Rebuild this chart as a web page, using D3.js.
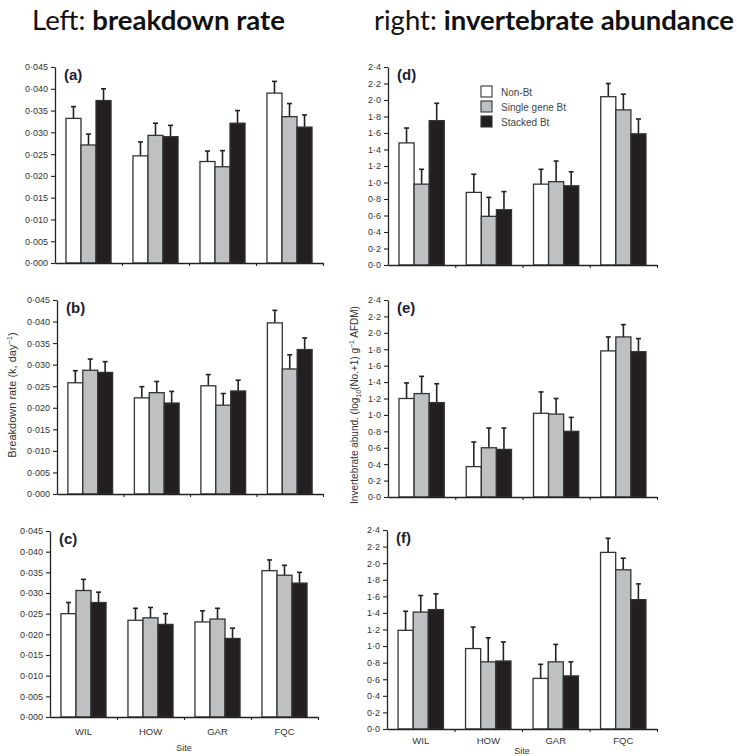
<!DOCTYPE html>
<html>
<head>
<meta charset="utf-8">
<script src="https://cdn.jsdelivr.net/npm/d3@7"></script>
<style>
  body { margin: 0; background: #fff; }
  svg { display: block; }
  .tick text { font-family: "Liberation Sans", Arial, sans-serif; fill: #333; }
</style>
</head>
<body>
<svg id="chart" width="737" height="756"></svg>
<script>
// sites and treatments
var sites = ["WIL", "HOW", "GAR", "FQC"]
var treatments = ["Non-Bt", "Single gene Bt", "Stacked Bt"]
var treatColors = ["#ffffff", "#bfc0c2", "#231f20"]

var rateTicks = [0, 0.005, 0.010, 0.015, 0.020, 0.025, 0.030, 0.035, 0.040, 0.045]
var abundTicks = [0, 0.2, 0.4, 0.6, 0.8, 1.0, 1.2, 1.4, 1.6, 1.8, 2.0, 2.2, 2.4]

// breakdown rate, rows = site, cols = treatment
var meanA = [[0.0332, 0.0271, 0.0373], [0.0246, 0.0293, 0.0290], [0.0233, 0.0221, 0.0321], [0.0390, 0.0336, 0.0312]]
var seA   = [[0.0027, 0.0025, 0.0027], [0.0032, 0.0028, 0.0026], [0.0024, 0.0037, 0.0029], [0.0027, 0.0030, 0.0028]]
var meanB = [[0.0258, 0.0287, 0.0282], [0.0223, 0.0235, 0.0211], [0.0251, 0.0206, 0.0239], [0.0397, 0.0290, 0.0335]]
var seB   = [[0.0028, 0.0026, 0.0025], [0.0026, 0.0026, 0.0027], [0.0026, 0.0027, 0.0025], [0.0029, 0.0033, 0.0027]]
var meanC = [[0.0250, 0.0306, 0.0277], [0.0234, 0.0240, 0.0224], [0.0230, 0.0237, 0.0190], [0.0354, 0.0343, 0.0324]]
var seC   = [[0.0027, 0.0027, 0.0025], [0.0029, 0.0025, 0.0026], [0.0027, 0.0026, 0.0025], [0.0026, 0.0024, 0.0026]]

// invertebrate abundance
var meanD = [[1.48, 0.98, 1.75], [0.88, 0.59, 0.67], [0.98, 1.01, 0.96], [2.04, 1.88, 1.59]]
var seD   = [[0.18, 0.18, 0.21], [0.22, 0.23, 0.22], [0.18, 0.25, 0.17], [0.16, 0.19, 0.18]]
var meanE = [[1.20, 1.26, 1.15], [0.37, 0.60, 0.58], [1.02, 1.01, 0.80], [1.78, 1.95, 1.77]]
var seE   = [[0.19, 0.21, 0.23], [0.30, 0.24, 0.26], [0.26, 0.19, 0.17], [0.17, 0.15, 0.16]]
var meanF = [[1.19, 1.41, 1.44], [0.97, 0.81, 0.82], [0.61, 0.81, 0.64], [2.13, 1.92, 1.56]]
var seF   = [[0.23, 0.20, 0.19], [0.26, 0.29, 0.23], [0.17, 0.21, 0.17], [0.17, 0.14, 0.19]]

var panels = [
  {tag: "(a)", mean: meanA, se: seA, ticks: rateTicks, dec: 3, x0: 55, x1: 323, top: 67, zero: 263},
  {tag: "(b)", mean: meanB, se: seB, ticks: rateTicks, dec: 3, x0: 57, x1: 323, top: 300, zero: 494},
  {tag: "(c)", mean: meanC, se: seC, ticks: rateTicks, dec: 3, x0: 50, x1: 318, top: 531, zero: 717, siteY: 18, titleY: 34},
  {tag: "(d)", mean: meanD, se: seD, ticks: abundTicks, dec: 1, x0: 388, x1: 657, top: 67, zero: 265, legend: true},
  {tag: "(e)", mean: meanE, se: seE, ticks: abundTicks, dec: 1, x0: 388, x1: 657, top: 300, zero: 497},
  {tag: "(f)", mean: meanF, se: seF, ticks: abundTicks, dec: 1, x0: 387, x1: 657, top: 530, zero: 729, siteY: 15, titleY: 25}
]

var svg = d3.select("#chart")
var INK = "#222"

// header
function header(x, plain, bold, target){
  var t = svg.append("text").attr("x", x).attr("y", 30)
    .style("font-family", "Lato, 'Open Sans', sans-serif").style("font-size", "24px").attr("fill", "#111")
  t.append("tspan").text(plain)
  t.append("tspan").style("font-weight", "bold").text(bold)
  var w = t.node().getComputedTextLength()
  t.style("font-size", (24 * target / w).toFixed(2) + "px")
}
header(32, "Left: ", "breakdown rate", 253)
header(374, "right: ", "invertebrate abundance", 360)

function drawPanel(p){
  var g = svg.append("g")
  var y = d3.scaleLinear().domain([0, p.ticks[p.ticks.length - 1]]).range([p.zero, p.top])
  var x = d3.scaleBand().domain(sites).range([p.x0, p.x1])
  var xs = d3.scaleBand().domain(treatments).range([0, x.bandwidth()]).paddingOuter(0.73).paddingInner(0)

  var rows = []
  sites.forEach(function(s, i){
    treatments.forEach(function(t, j){
      rows.push({site: s, treat: t, j: j, v: p.mean[i][j], se: p.se[i][j]})
    })
  })

  // error bars first so bars sit on top of the stems
  var eb = g.selectAll(".err").data(rows).enter().append("g").attr("class", "err")
  eb.append("line")
    .attr("x1", d => x(d.site) + xs(d.treat) + xs.bandwidth() / 2)
    .attr("x2", d => x(d.site) + xs(d.treat) + xs.bandwidth() / 2)
    .attr("y1", d => y(d.v)).attr("y2", d => y(d.v + d.se))
    .attr("stroke", INK).attr("stroke-width", 1.6)
  eb.append("line")
    .attr("x1", d => x(d.site) + xs(d.treat) + xs.bandwidth() / 2 - 2.5)
    .attr("x2", d => x(d.site) + xs(d.treat) + xs.bandwidth() / 2 + 2.5)
    .attr("y1", d => y(d.v + d.se)).attr("y2", d => y(d.v + d.se))
    .attr("stroke", INK).attr("stroke-width", 1.6)

  g.selectAll(".bar").data(rows).enter().append("rect")
    .attr("class", "bar")
    .attr("x", d => x(d.site) + xs(d.treat))
    .attr("width", xs.bandwidth())
    .attr("y", d => y(d.v))
    .attr("height", d => y(0) - y(d.v))
    .attr("fill", d => treatColors[d.j])
    .attr("stroke", "#333").attr("stroke-width", 1.3)

  // y axis
  var fmt = d => d.toFixed(p.dec).replace(".", "\u00b7")
  var ya = g.append("g").attr("transform", "translate(" + p.x0 + ",0)")
    .call(d3.axisLeft(y).tickValues(p.ticks).tickSize(4).tickSizeOuter(0).tickFormat(fmt))
  ya.selectAll("text").style("font-size", "9px")
  ya.select(".domain").attr("stroke", INK).attr("stroke-width", 1.3)
  ya.selectAll(".tick line").attr("stroke", INK).attr("stroke-width", 1.1)

  // x axis with ticks on group boundaries
  var xi = d3.scaleLinear().domain([0, sites.length]).range([p.x0, p.x1])
  var xa = g.append("g").attr("transform", "translate(0," + p.zero + ")")
    .call(d3.axisBottom(xi).tickValues([1, 2, 3, 4]).tickSize(3).tickSizeOuter(0).tickFormat(""))
  xa.select(".domain").attr("stroke", INK).attr("stroke-width", 1.3)
  xa.selectAll(".tick line").attr("stroke", INK).attr("stroke-width", 1.1)

  if (p.siteY){
    g.selectAll(".site").data(sites).enter().append("text")
      .attr("x", d => x(d) + x.bandwidth() / 2)
      .attr("y", p.zero + p.siteY)
      .attr("text-anchor", "middle")
      .style("font-family", "'Liberation Sans', Arial, sans-serif").style("font-size", "9.5px")
      .attr("fill", "#333").text(d => d)
    g.append("text").attr("x", (p.x0 + p.x1) / 2).attr("y", p.zero + p.titleY)
      .attr("text-anchor", "middle")
      .style("font-family", "'Liberation Sans', Arial, sans-serif").style("font-size", "9px")
      .attr("fill", "#333").text("Site")
  }

  g.append("text").attr("x", p.x0 + 9).attr("y", p.top + 13)
    .style("font-family", "'Liberation Sans', Arial, sans-serif").style("font-size", "15px")
    .style("font-weight", "bold").attr("fill", "#1c1c34").text(p.tag)

  if (p.legend){
    var lg = g.append("g").attr("transform", "translate(481,86)")
    var item = lg.selectAll(".leg").data(treatments).enter().append("g")
      .attr("transform", (d, i) => "translate(0," + i * 15 + ")")
    item.append("rect").attr("width", 11).attr("height", 11)
      .attr("fill", (d, i) => treatColors[i]).attr("stroke", "#333").attr("stroke-width", 1.1)
    item.append("text").attr("x", 20).attr("y", 9.5)
      .style("font-family", "'Liberation Sans', Arial, sans-serif").style("font-size", "10px")
      .attr("fill", "#444").text(d => d)
  }
}

panels.forEach(drawPanel)

// y axis titles
var lt = svg.append("text").attr("transform", "translate(16,395) rotate(-90)")
  .attr("text-anchor", "middle")
  .style("font-family", "'Liberation Sans', Arial, sans-serif").style("font-size", "11px").attr("fill", "#333")
lt.append("tspan").text("Breakdown rate (k, day")
lt.append("tspan").attr("dy", -4).style("font-size", "7.5px").text("\u22121")
lt.append("tspan").attr("dy", 4).text(")")

var rt = svg.append("text").attr("transform", "translate(358,405) rotate(-90)")
  .attr("text-anchor", "middle")
  .style("font-family", "'Liberation Sans', Arial, sans-serif").style("font-size", "10px").attr("fill", "#333")
rt.append("tspan").text("Invertebrate abund. (log")
rt.append("tspan").attr("dy", 3).style("font-size", "7px").text("10")
rt.append("tspan").attr("dy", -3).text("(No.+1) g")
rt.append("tspan").attr("dy", -4).style("font-size", "7px").text("\u22121")
rt.append("tspan").attr("dy", 4).text(" AFDM)")
</script>
</body>
</html>
